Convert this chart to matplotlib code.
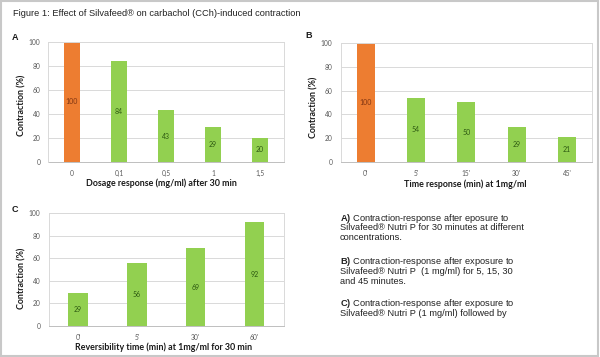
import matplotlib
matplotlib.use("Agg")
import matplotlib.pyplot as plt
from matplotlib.patches import Rectangle

# ---- data ----
A_cats = ['0', '0,1', '0,5', '1', '1,5']
A_vals = [100, 84, 43, 29, 20]
B_cats = ["0'", "5'", "15'", "30'", "45'"]
B_vals = [100, 54, 50, 29, 21]
C_cats = ["0'", "5'", "30'", "60'"]
C_vals = [29, 56, 69, 92]
y_ticks = [0, 20, 40, 60, 80, 100]

title = "Figure 1: Effect of Silvafeed\u00ae on carbachol (CCh)-induced contraction"
A_xlabel = "Dosage response (mg/ml) after 30 min"
B_xlabel = "Time response (min) at 1mg/ml"
C_xlabel = "Reversibility time (min) at 1mg/ml for 30 min"
ylabel = "Contraction (%)"

ORANGE = '#ED7D31'
GREEN = '#92D050'
ORANGE_TXT = '#7F3512'
GREEN_TXT = '#2E5A12'
GRID = '#D9D9D9'

plt.rcParams['mathtext.fontset'] = 'custom'
plt.rcParams['mathtext.rm'] = 'Liberation Sans'
plt.rcParams['mathtext.bf'] = 'Liberation Sans:bold'

fig = plt.figure(figsize=(6, 3.57), dpi=100)
fig.patches.append(Rectangle((0.002, 0.003), 0.994, 0.994, transform=fig.transFigure,
                             fill=False, edgecolor='#C8C8C8', lw=1.5, zorder=0))


def panel(rect, cats, vals, colors, xlabel, xl_coords, yl_coords, width):
    ax = fig.add_axes(rect)
    x = list(range(len(cats)))
    bars = ax.bar(x, vals, width=width, color=colors, zorder=2)
    for b, v, c in zip(bars, vals, colors):
        ax.text(b.get_x() + b.get_width() / 2, v / 2, str(v), ha='center', va='center',
                fontsize=5.0, color=ORANGE_TXT if c == ORANGE else GREEN_TXT,
                family='Lato', zorder=3)
    ax.set_xlim(-0.5, len(cats) - 0.5)
    ax.set_ylim(0, 100)
    ax.set_yticks(y_ticks)
    ax.set_xticks(x)
    ax.set_xticklabels(cats)
    ax.yaxis.grid(True, color=GRID, lw=0.7, zorder=0)
    ax.set_axisbelow(True)
    for s in ax.spines.values():
        s.set_color(GRID)
        s.set_linewidth(0.7)
    ax.spines['bottom'].set_color('#BFBFBF')
    ax.tick_params(length=0, labelsize=4.8, colors='#595959', pad=6)
    for lab in ax.get_xticklabels() + ax.get_yticklabels():
        lab.set_family('Lato')
    ax.set_xlabel(xlabel, fontsize=6.4, fontweight='bold', family='Lato', color='#1a1a1a')
    ax.xaxis.set_label_coords(*xl_coords)
    ax.xaxis.label.set_va('center')
    ax.set_ylabel(ylabel, fontsize=6.4, fontweight='bold', family='Lato', color='#1a1a1a')
    ax.yaxis.set_label_coords(*yl_coords)
    ax.yaxis.label.set_va('center')
    return ax


panel([48.5 / 600, 1 - 162 / 357, 235 / 600, 120 / 357], A_cats, A_vals,
      [ORANGE] + [GREEN] * 4, A_xlabel, (0.48, -0.175), (-0.113, 0.475), 0.36)
panel([340.6 / 600, 1 - 162 / 357, 251.4 / 600, 119 / 357], B_cats, B_vals,
      [ORANGE] + [GREEN] * 4, B_xlabel, (0.494, -0.185), (-0.106, 0.46), 0.36)
panel([48.7 / 600, 1 - 326 / 357, 235 / 600, 113 / 357], C_cats, C_vals,
      [GREEN] * 4, C_xlabel, (0.49, -0.186), (-0.114, 0.42), 0.33)


def px(xp, yp):
    return xp / 600, 1 - yp / 357


fig.text(*px(13, 13), title, fontsize=6.7, family='Liberation Sans', va='center', ha='left',
         color='#222222')
for letter, (xp, yp) in zip(['A', 'B', 'C'], [(12, 37), (305, 36), (12, 209)]):
    fig.text(*px(xp, yp), letter, fontsize=6.5, fontweight='bold', family='Liberation Sans',
             va='center', ha='left', color='#1a1a1a')

notes = [
    (218, r"$\mathbf{A)}$ Contraction-response after eposure to"),
    (228, "Silvafeed\u00ae Nutri P for 30 minutes at different"),
    (238, "concentrations."),
    (262, r"$\mathbf{B)}$ Contraction-response after exposure to"),
    (272, "Silvafeed\u00ae Nutri P  (1 mg/ml) for 5, 15, 30"),
    (282, "and 45 minutes."),
    (303, r"$\mathbf{C)}$ Contraction-response after exposure to"),
    (313, "Silvafeed\u00ae Nutri P (1 mg/ml) followed by"),
]
for yp, t in notes:
    fig.text(*px(340, yp), t, fontsize=6.7, family='Liberation Sans', va='center',
             ha='left', color='#222222')

fig.savefig('out.png', dpi=100)
